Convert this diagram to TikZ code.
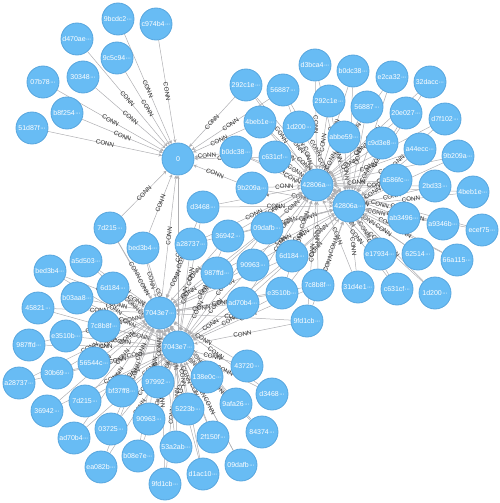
\documentclass[tikz,border=0pt]{standalone}
\usepackage{fontspec}
\setmainfont{Liberation Sans}
\usetikzlibrary{arrows.meta}
\definecolor{nodefill}{RGB}{104,188,244}
\definecolor{nodeline}{RGB}{88,166,222}
\definecolor{edgecol}{RGB}{175,175,178}
\definecolor{lblcol}{RGB}{40,40,40}
\newcommand\mydots{\kern0.2pt·\kern-0.7pt·\kern-0.7pt·}
\pgfdeclarelayer{bg}
\pgfsetlayers{bg,main}
\tikzset{
  nd/.style={circle, fill=nodefill, draw=nodeline, line width=0.8pt, minimum size=32pt, inner sep=0pt, text=white, font=\fontsize{7}{8}\selectfont},
  ed/.style={draw=edgecol, line width=0.5pt, -{Stealth[length=3.6pt,width=3.4pt]}},
  lbl/.style={sloped, midway, font=\fontsize{6.2}{6.2}\selectfont, text=lblcol, inner sep=0.5pt}
}
\begin{document}
\begin{tikzpicture}[x=1pt,y=-1pt]
\useasboundingbox (0,0) rectangle (500,503);
% hubs
\node[nd] (z) at (178,159) {0};
\node[nd] (h1) at (317,185) {42806a\mydots};
\node[nd] (h2) at (349,206) {42806a\mydots};
\node[nd] (l1) at (160,313) {7043e7\mydots};
\node[nd] (l2) at (178,347) {7043e7\mydots};
% upper-left leaves
\node[nd] (u1) at (118,19) {9bcdc2\mydots};
\node[nd] (u2) at (156,24) {c974b4\mydots};
\node[nd] (u3) at (77,39) {d470ae\mydots};
\node[nd] (u4) at (117,58) {9c5c94\mydots};
\node[nd] (u5) at (83,77) {30348\mydots};
\node[nd] (u6) at (43,82) {07b78\mydots};
\node[nd] (u7) at (67,113) {b8f254\mydots};
\node[nd] (u8) at (32,128) {51d87f\mydots};
% right cluster
\node[nd] (r1) at (246,85) {292c1e\mydots};
\node[nd] (r2) at (283,90) {56887\mydots};
\node[nd] (r3) at (260,122) {4beb1e\mydots};
\node[nd] (r4) at (299,127) {1d200\mydots};
\node[nd] (r5) at (236,152) {b0dc38\mydots};
\node[nd] (r6) at (275,157) {c631cf\mydots};
\node[nd] (r7) at (252,188) {9b209a\mydots};
\node[nd] (r8) at (315,65) {d3bca4\mydots};
\node[nd] (r9) at (353,71) {b0dc38\mydots};
\node[nd] (r10) at (392,77) {e2ca32\mydots};
\node[nd] (r11) at (430,82) {32dacc\mydots};
\node[nd] (r12) at (329,101) {292c1e\mydots};
\node[nd] (r13) at (367,107) {56887\mydots};
\node[nd] (r14) at (406,113) {20e027\mydots};
\node[nd] (r15) at (445,119) {d7f102\mydots};
\node[nd] (r16) at (344,137) {abbe59\mydots};
\node[nd] (r17) at (382,143) {c9d3e8\mydots};
\node[nd] (r18) at (420,149) {a44ecc\mydots};
\node[nd] (r19) at (458,156) {9b209a\mydots};
\node[nd] (r20) at (396,180) {a586fc\mydots};
\node[nd] (r21) at (435,186) {2bd33\mydots};
\node[nd] (r22) at (473,192) {4beb1e\mydots};
\node[nd] (r23) at (404,218) {ab3496\mydots};
\node[nd] (r24) at (443,224) {a9346b\mydots};
\node[nd] (r25) at (482,230) {ecef75\mydots};
\node[nd] (r26) at (380,254) {e17934\mydots};
\node[nd] (r27) at (418,254) {62514\mydots};
\node[nd] (r28) at (457,260) {66a115\mydots};
\node[nd] (r29) at (358,287) {31d4e1\mydots};
\node[nd] (r30) at (397,289) {c631cf\mydots};
\node[nd] (r31) at (435,293) {1d200\mydots};
% middle
\node[nd] (m1) at (203,207) {d3468\mydots};
\node[nd] (m2) at (228,236) {36942\mydots};
\node[nd] (m3) at (267,228) {09dafb\mydots};
\node[nd] (m4) at (292,256) {6d184\mydots};
\node[nd] (m5) at (253,265) {90963\mydots};
\node[nd] (m6) at (217,273) {987ffd\mydots};
\node[nd] (m7) at (318,285) {7c8b8f\mydots};
\node[nd] (m8) at (282,293) {e3510b\mydots};
\node[nd] (m9) at (243,303) {ad70b4\mydots};
\node[nd] (m10) at (307,321) {9fd1cb\mydots};
\node[nd] (m11) at (191,244) {a28737\mydots};
% lower cluster
\node[nd] (b1) at (110,228) {7d215\mydots};
\node[nd] (b2) at (143,248) {bed3b4\mydots};
\node[nd] (b3) at (86,261) {a5d503\mydots};
\node[nd] (b4) at (50,271) {bed3b4\mydots};
\node[nd] (b5) at (113,288) {6d184\mydots};
\node[nd] (b6) at (77,298) {b03aa8\mydots};
\node[nd] (b7) at (38,308) {45821\mydots};
\node[nd] (b8) at (104,326) {7c8b8f\mydots};
\node[nd] (b9) at (66,336) {e3510b\mydots};
\node[nd] (b10) at (29,345) {987ffd\mydots};
\node[nd] (b11) at (94,363) {56544c\mydots};
\node[nd] (b12) at (57,373) {30b69\mydots};
\node[nd] (b13) at (19,383) {a28737\mydots};
\node[nd] (b14) at (122,391) {bf37ff8\mydots};
\node[nd] (b15) at (85,401) {7d215\mydots};
\node[nd] (b16) at (47,411) {36942\mydots};
\node[nd] (b17) at (111,429) {03725\mydots};
\node[nd] (b18) at (74,438) {ad70b4\mydots};
\node[nd] (b19) at (101,467) {ea082b\mydots};
\node[nd] (b20) at (138,456) {b08e7e\mydots};
\node[nd] (b21) at (149,419) {90963\mydots};
\node[nd] (b22) at (158,382) {97992\mydots};
\node[nd] (b23) at (165,484) {9fd1cb\mydots};
\node[nd] (b24) at (176,447) {53a2ab\mydots};
\node[nd] (b25) at (188,409) {5223b\mydots};
\node[nd] (b26) at (203,474) {d1ac10\mydots};
\node[nd] (b27) at (213,437) {2f150f\mydots};
\node[nd] (b28) at (207,377) {138e0c\mydots};
\node[nd] (b29) at (236,404) {9afa26\mydots};
\node[nd] (b30) at (241,465) {09dafb\mydots};
\node[nd] (b31) at (262,432) {84374\mydots};
\node[nd] (b32) at (247,366) {43720\mydots};
\node[nd] (b33) at (272,394) {d3468\mydots};
% edges
\begin{pgfonlayer}{bg}
\foreach \a in {u1,u2,u3,u4,u5,u6,u7,u8,r1,r2,r3,r5,r6,r7,b1,b2,l1,l2}
  {\draw[ed] (\a) -- node[lbl]{CONN} (z);}
\foreach \a in {r1,r2,r3,r4,r5,r6,r7,r8,r9,r10,r11,r12,r13,r14,r15,r16,r17,r18,r19,r20,r21,r22,r23,r24,r25,r26,r27,r28,r29,r30,r31,m1,m2,m3,m4,m5,m6,m7,m8,m9,m10,m11}
  {\draw[ed] (\a) -- node[lbl]{CONN} (h1);
   \draw[ed] (\a) -- node[lbl]{CONN} (h2);}
\foreach \a in {m1,m2,m3,m4,m5,m6,m7,m8,m9,m10,m11,b1,b2,b3,b4,b5,b6,b7,b8,b9,b10,b11,b12,b13,b14,b15,b16,b17,b18,b19,b20,b21,b22,b23,b24,b25,b26,b27,b28,b29,b30,b31,b32,b33}
  {\draw[ed] (\a) -- node[lbl]{CONN} (l1);
   \draw[ed] (\a) -- node[lbl]{CONN} (l2);}
\end{pgfonlayer}
\end{tikzpicture}
\end{document}
